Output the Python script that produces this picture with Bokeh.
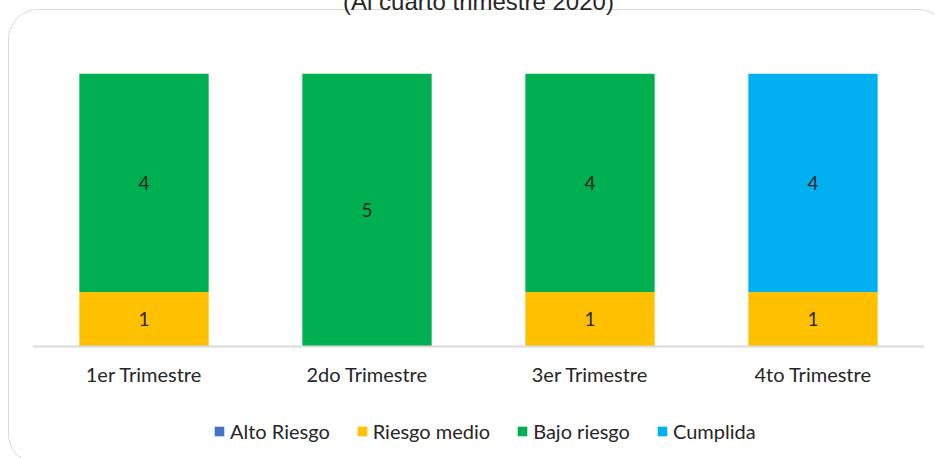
from bokeh.plotting import figure
from bokeh.layouts import column
from bokeh.models import ColumnDataSource, Legend, LegendItem, Span, Range1d
from bokeh.core.properties import value
from bokeh.embed import file_html
from bokeh.resources import INLINE

# ---- data ----
categories = ["1er Trimestre", "2do Trimestre", "3er Trimestre", "4to Trimestre"]
series_names = ["Alto Riesgo", "Riesgo medio", "Bajo riesgo", "Cumplida"]
alto_riesgo = [0, 0, 0, 0]
riesgo_medio = [1, 0, 1, 1]
bajo_riesgo = [4, 5, 4, 0]
cumplida = [0, 0, 0, 4]
colors = ["#4472C4", "#FFC000", "#00B050", "#00B0F0"]
title_text = "(Al cuarto trimestre 2020)"
y_max = 5

keys = ["alto", "medio", "bajo", "cumplida"]
series = [alto_riesgo, riesgo_medio, bajo_riesgo, cumplida]
src = ColumnDataSource(dict(cat=categories, alto=alto_riesgo, medio=riesgo_medio,
                            bajo=bajo_riesgo, cumplida=cumplida))

FONT = "Lato"
TXT = "#262626"

# layout geometry (pixels)
FIG_H = 531
TOP = 147
FRAME_H = FIG_H - TOP          # frame reaches figure bottom (room for labels + legend)
BAR_AREA = 273                 # pixels from value 0 to y_max
y_start = -y_max * (FRAME_H - BAR_AREA) / BAR_AREA

p = figure(x_range=categories, y_range=Range1d(y_start, y_max), width=932, height=FIG_H,
           output_backend="svg", toolbar_location=None, y_axis_location=None,
           x_axis_location=None,
           min_border_left=23, min_border_right=17, min_border_top=TOP,
           min_border_bottom=0)
p.styles = {"margin-top": "-84px"}
p.outline_line_color = None
p.border_fill_alpha = 0
p.background_fill_alpha = 0
p.xgrid.visible = False
p.ygrid.visible = False

p.title.text = title_text
p.title.align = "center"
p.title.text_font = "Liberation Sans"
p.title.text_font_size = "24px"
p.title.text_font_style = "normal"
p.title.text_color = "#262626"
p.title.standoff = 118

rs = p.vbar_stack(keys, x="cat", width=0.58, color=colors, source=src, line_color=None)

# category axis line and labels
p.add_layout(Span(location=0, dimension="width", line_color="#D9D9D9", line_width=2))
p.text(x=categories, y=[0] * len(categories), text=categories, y_offset=27,
       text_align="center", text_baseline="middle",
       text_font=value(FONT), text_font_size="20px", text_color=TXT)

# data labels
lx, ly, lt = [], [], []
for i, c in enumerate(categories):
    base = 0
    for s in series:
        v = s[i]
        if v > 0:
            lx.append(c)
            ly.append(base + v / 2)
            lt.append(str(v))
        base += v
p.text(x=lx, y=ly, text=lt, text_align="center", text_baseline="middle",
       text_font=value(FONT), text_font_size="19px", text_color=TXT)

legend = Legend(items=[LegendItem(label=n, renderers=[r]) for n, r in zip(series_names, rs)],
                orientation="horizontal", location=(181, 14), padding=0, margin=0,
                spacing=26, label_standoff=5, glyph_width=12, glyph_height=12,
                label_height=20, label_text_font=FONT, label_text_font_size="20px",
                label_text_color=TXT, border_line_color=None, background_fill_alpha=0)
p.add_layout(legend)

layout = column(p, styles={"margin-left": "8px", "margin-top": "9px",
                           "border": "1.5px solid #D9D9D9", "border-radius": "30px",
                           "padding-bottom": "6px", "min-width": "940px"})

open("out.html", "w").write(file_html(layout, INLINE))
